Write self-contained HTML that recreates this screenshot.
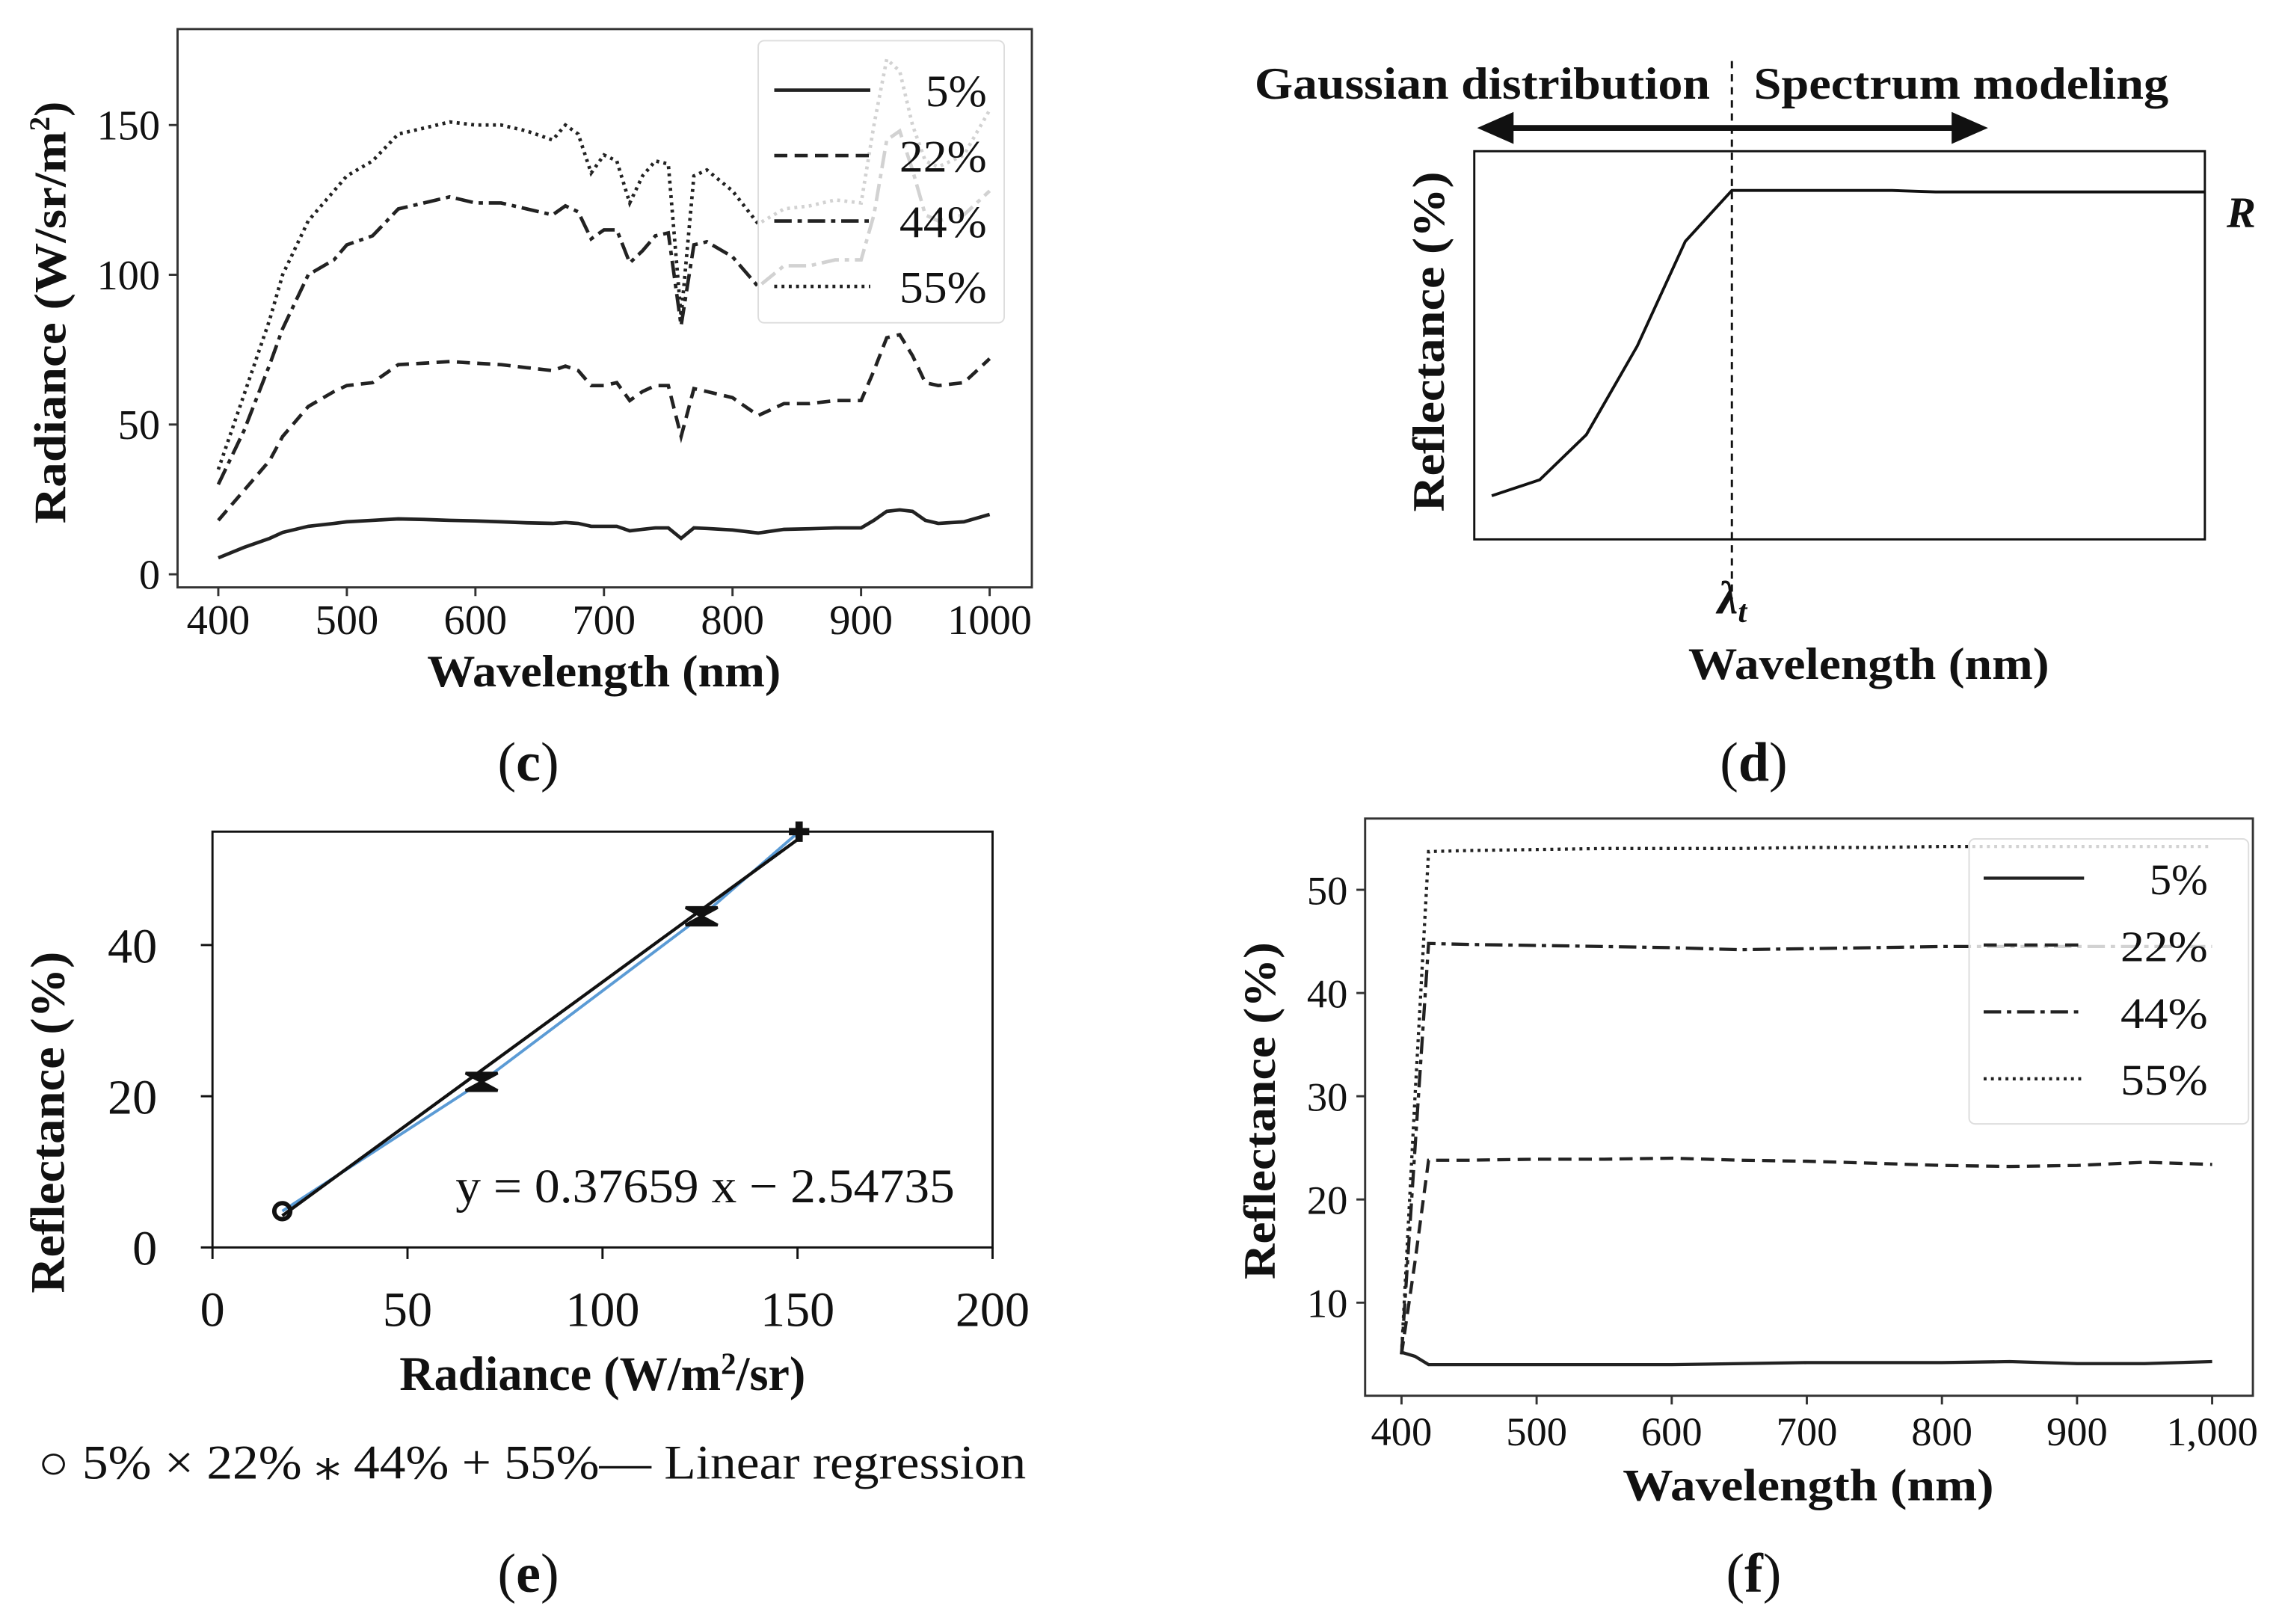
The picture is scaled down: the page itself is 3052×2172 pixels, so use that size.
<!DOCTYPE html>
<html><head><meta charset="utf-8"><style>
html,body{margin:0;padding:0;background:#fff;}
svg{display:block;}
text{font-family:"Liberation Serif",serif;fill:#111;}
.b{font-weight:bold;}
</style></head><body>
<svg id="fig" width="3052" height="2172" viewBox="0 0 1568 1117" preserveAspectRatio="none" xmlns="http://www.w3.org/2000/svg">
<rect width="1568" height="1117" fill="#fff"/>
<g id="pc"></g>
<g id="pd"></g>
<g id="pe"></g>
<g id="pf"></g>
<text x="363" y="537" font-size="38" text-anchor="middle">(<tspan class="b">c</tspan>)</text>
<text x="1205" y="537" font-size="38" text-anchor="middle">(<tspan class="b">d</tspan>)</text>
<text x="363" y="1095" font-size="38" text-anchor="middle">(<tspan class="b">e</tspan>)</text>
<text x="1205" y="1095" font-size="38" text-anchor="middle">(<tspan class="b">f</tspan>)</text>
</svg>
<script>
const NS="http://www.w3.org/2000/svg";
// ---- Panel c data ----
const cWave=[400,420,440,450,470,490,500,520,540,560,580,600,620,640,660,670,680,690,700,710,720,730,740,750,760,770,780,800,820,840,860,880,900,910,920,930,940,950,960,980,1000];
const c5=[5.5,9,12,14,16,17,17.5,18,18.5,18.3,18,17.8,17.5,17.2,17,17.3,17,16,16,16,14.5,15,15.5,15.5,12,15.5,15.3,14.8,13.8,15,15.2,15.5,15.5,18,21,21.5,21,18,17,17.5,20];
const c22=[18,28,38,46,56,61,63,64,70,70.5,71,70.5,70,69,68,69.5,68,63,63,64,58,61,63,63,46,62,61,59,53,57,57,58,58,68,79,80,73,64,63,64,72];
const c44=[30,48,70,82,100,105,110,113,122,124,126,124,124,122,120,123,121,112,115,115,104,108,113,114,83,110,111,106,96,103,103,105,105,120,145,148,135,120,118,120,128];
const c55=[35,60,85,100,118,128,133,138,147,149,151,150,150,148,145,150,147,134,140,138,124,133,138,137,86,133,135,128,117,122,123,125,124,150,172,168,150,138,136,140,155];
const cXTicks=[400,500,600,700,800,900,1000];
const cYTicks=[0,50,100,150];
// ---- Panel d data ----
const dX=[0,1,2,3,4,5,6,7,8,9,10];
const dY=[5,9,20,42,68,80,80,80,79.7,79.7,79.7];
// ---- Panel e data ----
const eRad=[17.9,69,125.4,150.4];
const eRef=[4.8,21.9,43.8,55];
const eSlope=0.37659, eIntercept=-2.54735;
const eXTicks=[0,50,100,150,200];
const eYTicks=[0,20,40];
// ---- Panel f data ----
const fWave=[400,410,420,450,500,550,600,650,700,750,800,850,900,950,1000];
const f5=[5.2,4.8,4.0,4.0,4.0,4.0,4.0,4.1,4.2,4.2,4.2,4.3,4.1,4.1,4.3];
const f22=[5,14,23.8,23.8,23.9,23.9,24.0,23.8,23.7,23.5,23.3,23.2,23.3,23.6,23.4];
const f44=[5,25,44.8,44.7,44.6,44.5,44.4,44.2,44.3,44.4,44.5,44.5,44.5,44.5,44.5];
const f55=[5,30,53.7,53.8,53.9,54.0,54.0,54.0,54.1,54.1,54.2,54.2,54.2,54.2,54.2];
const fXTicks=[400,500,600,700,800,900,1000];
const fYTicks=[10,20,30,40,50];

function el(parent,tag,attrs){const e=document.createElementNS(NS,tag);for(const k in attrs)e.setAttribute(k,attrs[k]);parent.appendChild(e);return e;}
function txt(parent,x,y,s,size,extra,tl){const a=Object.assign({x:x,y:y,'font-size':size},extra||{});if(tl){a.textLength=tl;a.lengthAdjust='spacingAndGlyphs';}const t=el(parent,'text',a);t.textContent=s;return t;}
function lin(d0,d1,r0,r1){return v=>r0+(v-d0)*(r1-r0)/(d1-d0);}
function path(xs,ys,X,Y){return xs.map((v,i)=>(i?'L':'M')+X(v).toFixed(1)+','+Y(ys[i]).toFixed(1)).join('');}
const dashes={s:'',d:'9,5',dd:'12,4,3,4',o:'2,3'};

// ===== Panel c =====
(function(){
const g=document.getElementById('pc');
const X=lin(400,1000,150,680),Y=lin(0,150,395,86);
const fr=el(g,'rect',{x:122,y:20,width:587,height:384,fill:'none',stroke:'#333','stroke-width':1.5});

cXTicks.forEach(v=>{el(g,'line',{x1:X(v),x2:X(v),y1:404,y2:410,stroke:'#333','stroke-width':1.5});
 const t=txt(g,X(v),436,String(v),29,{'text-anchor':'middle'});});
cYTicks.forEach(v=>{el(g,'line',{x1:116,x2:122,y1:Y(v),y2:Y(v),stroke:'#333','stroke-width':1.5});
 const t=txt(g,110,Y(v)+10,String(v),29,{'text-anchor':'end'});});
const xl=txt(g,415,472,'Wavelength (nm)',31,{'text-anchor':'middle',class:'b'},243);
const yl=txt(g,0,0,'',31,{'text-anchor':'middle',class:'b',transform:'translate(45,215) rotate(-90)'});
yl.innerHTML='<tspan textLength="270" lengthAdjust="spacingAndGlyphs">Radiance (W/sr/m</tspan><tspan dy="-11" font-size="20">2</tspan><tspan dy="11">)</tspan>';

const ser=[[c5,'s','5%'],[c22,'d','22%'],[c44,'dd','44%'],[c55,'o','55%']];
ser.forEach(s=>{const p=el(g,'path',{d:path(cWave,s[0],X,Y),fill:'none',stroke:'#222','stroke-width':2.4,'stroke-dasharray':dashes[s[1]]});
 });
const lg=el(g,'g',{});
el(lg,'rect',{x:521,y:28,width:169,height:194,rx:4,fill:'#fff','fill-opacity':0.8,stroke:'#ddd'});
ser.forEach((s,i)=>{const y=62+i*45;el(lg,'line',{x1:532,x2:598,y1:y,y2:y,stroke:'#222','stroke-width':2.4,'stroke-dasharray':dashes[s[1]]});
 const t=txt(lg,678,y+11,s[2],31,{'text-anchor':'end'},s[2].length===2?42:60);});
})();

// ===== Panel d =====
(function(){
const g=document.getElementById('pd');
const fr=el(g,'rect',{x:1013,y:104,width:502,height:267,fill:'none',stroke:'#111','stroke-width':1.5});

const p=el(g,'path',{d:'M1025,341 L1058,330 L1090,299 L1125,238 L1158,166 L1190,131 L1300,131 L1330,132 L1515,132',fill:'none',stroke:'#111','stroke-width':2});

el(g,'line',{x1:1190,x2:1190,y1:42,y2:412,stroke:'#111','stroke-width':1.5,'stroke-dasharray':'5,4'});
const ar=el(g,'g',{});
el(ar,'line',{x1:1030,x2:1350,y1:88,y2:88,stroke:'#111','stroke-width':4});
el(ar,'path',{d:'M1015,88 L1040,77 L1040,99 Z',fill:'#111'});
el(ar,'path',{d:'M1366,88 L1341,77 L1341,99 Z',fill:'#111'});
const t1=txt(g,862,68,'Gaussian distribution',31,{class:'b'},313);
const t2=txt(g,1205,68,'Spectrum modeling',31,{class:'b'},285);
const r=txt(g,1530,156,'R',30,{class:'b','font-style':'italic'});
const l=txt(g,1180,422,'λ',32,{class:'b','font-style':'italic'});l.innerHTML='λ<tspan dy="6" font-size="22">t</tspan>';
const xl=txt(g,1160,467,'Wavelength (nm)',31,{class:'b'},248);
const yl=txt(g,0,0,'Reflectance (%)',31,{'text-anchor':'middle',class:'b',transform:'translate(992,235) rotate(-90)'},234);
})();

// ===== Panel e =====
(function(){
const g=document.getElementById('pe');
const X=lin(0,200,146,682),Y=lin(0,40,858,650);
const fr=el(g,'rect',{x:146,y:572,width:536,height:286,fill:'none',stroke:'#111','stroke-width':1.5});

eXTicks.forEach(v=>{el(g,'line',{x1:X(v),x2:X(v),y1:858,y2:866,stroke:'#111','stroke-width':1.5});
 const t=txt(g,X(v),912,String(v),34,{'text-anchor':'middle'});});
eYTicks.forEach(v=>{el(g,'line',{x1:138,x2:146,y1:Y(v),y2:Y(v),stroke:'#111','stroke-width':1.5});
 const t=txt(g,108,Y(v)+12,String(v),34,{'text-anchor':'end'});});
const xl=txt(g,414,956,'',33,{'text-anchor':'middle',class:'b'});xl.innerHTML='Radiance (W/m<tspan dy="-11" font-size="21">2</tspan><tspan dy="11">/sr)</tspan>';

const yl=txt(g,0,0,'Reflectance (%)',33,{'text-anchor':'middle',class:'b',transform:'translate(44,772) rotate(-90)'},235);
const bl=el(g,'path',{d:path(eRad,eRef,X,Y),fill:'none',stroke:'#5b9bd5','stroke-width':2});
const x0=eRad[0],x1=eRad[eRad.length-1];
const rl=el(g,'line',{x1:X(x0),y1:Y(eSlope*x0+eIntercept),x2:X(x1),y2:Y(eSlope*x1+eIntercept),stroke:'#111','stroke-width':2.2});

eRad.forEach((v,i)=>{const cx=X(v),cy=Y(eRef[i]);let m;
 if(i===0)m=el(g,'circle',{cx:cx,cy:cy,r:5.5,fill:'none',stroke:'#111','stroke-width':3});
 else if(i===3){m=el(g,'path',{d:`M${cx-7},${cy}L${cx+7},${cy}M${cx},${cy-7}L${cx},${cy+7}`,stroke:'#111','stroke-width':5});}
 else m=el(g,'path',{d:`M${cx-11},${cy-6}L${cx+11},${cy-6}L${cx-11},${cy+6}L${cx+11},${cy+6}Z`,fill:'#111',stroke:'#111','stroke-width':2});
 });
const eq=txt(g,313,827,'y = 0.37659 x − 2.54735',33,{},343);
const lg=txt(g,26,1017,'○ 5% × 22% ⁎ 44% + 55%— Linear regression',33,{},679);
})();

// ===== Panel f =====
(function(){
const g=document.getElementById('pf');
const X=lin(400,1000,963,1520),Y=lin(10,50,896,612);
const fr=el(g,'rect',{x:938,y:563,width:610,height:397,fill:'none',stroke:'#333','stroke-width':1.5});

fXTicks.forEach(v=>{el(g,'line',{x1:X(v),x2:X(v),y1:960,y2:966,stroke:'#333','stroke-width':1.5});
 const t=txt(g,X(v),994,v===1000?'1,000':String(v),28,{'text-anchor':'middle'});});
fYTicks.forEach(v=>{el(g,'line',{x1:932,x2:938,y1:Y(v),y2:Y(v),stroke:'#333','stroke-width':1.5});
 const t=txt(g,926,Y(v)+10,String(v),28,{'text-anchor':'end'});});
const xl=txt(g,1115,1032,'Wavelength (nm)',31,{class:'b'},255);
const yl=txt(g,0,0,'Reflectance (%)',31,{'text-anchor':'middle',class:'b',transform:'translate(876,764) rotate(-90)'},232);
const ser=[[f5,'s','5%'],[f22,'d','22%'],[f44,'dd','44%'],[f55,'o','55%']];
ser.forEach(s=>{const p=el(g,'path',{d:path(fWave,s[0],X,Y),fill:'none',stroke:'#222','stroke-width':2.2,'stroke-dasharray':dashes[s[1]]});
 });
const lg=el(g,'g',{});
el(lg,'rect',{x:1353,y:577,width:192,height:196,rx:4,fill:'#fff','fill-opacity':0.8,stroke:'#ddd'});
ser.forEach((s,i)=>{const y=604+i*46;el(lg,'line',{x1:1363,x2:1432,y1:y,y2:y,stroke:'#222','stroke-width':2.2,'stroke-dasharray':dashes[s[1]]});
 const t=txt(lg,1517,y+11,s[2],30,{'text-anchor':'end'},s[2].length===2?40:60);});
})();
</script>
</body></html>
